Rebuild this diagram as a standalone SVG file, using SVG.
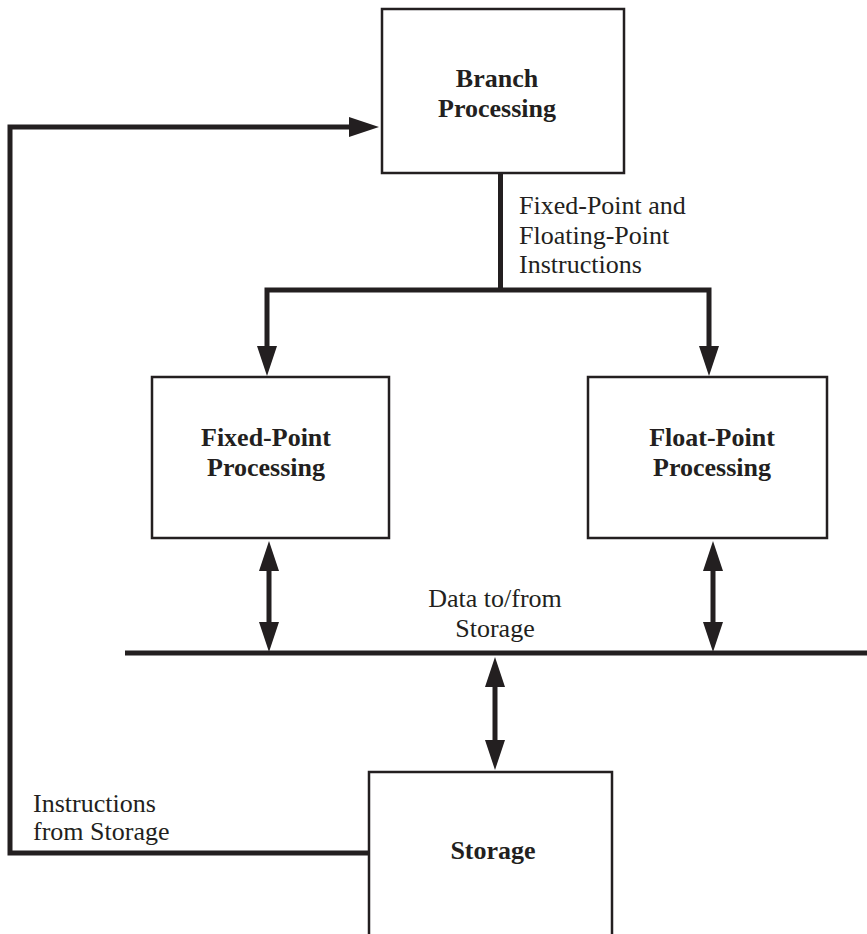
<svg xmlns="http://www.w3.org/2000/svg" width="867" height="934" viewBox="0 0 867 934">
<style>
.box{fill:#fff;stroke:#231f20;stroke-width:2.5}
.wire{fill:none;stroke:#231f20;stroke-width:5}
text{font-family:'Liberation Serif','Times New Roman',Times,serif;font-size:26px;fill:#231f20}
.title{font-weight:bold;text-anchor:middle}
.mid{text-anchor:middle}
</style>
<defs>
<marker id="ah" markerUnits="userSpaceOnUse" markerWidth="32" markerHeight="22" viewBox="0 -11 32 22" refX="1" refY="0" orient="auto-start-reverse">
<path d="M0,-10 L30,0 L0,10 Z" fill="#231f20"/>
</marker>
</defs>
<g id="connectors">
<line class="wire" x1="500.5" y1="173" x2="500.5" y2="290"/>
<path class="wire" d="M267,347 V290 H709 V347" marker-start="url(#ah)" marker-end="url(#ah)"/>
<path class="wire" d="M368,853 H10 V127 H350" marker-end="url(#ah)"/>
<line class="wire" x1="125" y1="653" x2="867" y2="653"/>
<line class="wire" x1="269" y1="570" x2="269" y2="623" marker-start="url(#ah)" marker-end="url(#ah)"/>
<line class="wire" x1="713" y1="570" x2="713" y2="623" marker-start="url(#ah)" marker-end="url(#ah)"/>
<line class="wire" x1="495" y1="686" x2="495" y2="741" marker-start="url(#ah)" marker-end="url(#ah)"/>
<text x="519" y="214">Fixed-Point and</text>
<text x="519" y="244">Floating-Point</text>
<text x="519" y="273">Instructions</text>
<text class="mid" x="495" y="607">Data to/from</text>
<text class="mid" x="495" y="637">Storage</text>
<text x="33" y="812">Instructions</text>
<text x="33" y="840">from Storage</text>
</g>
<g id="branch">
<rect class="box" x="382" y="9" width="242" height="164"/>
<text class="title" x="497" y="87">Branch</text>
<text class="title" x="497" y="117">Processing</text>
</g>
<g id="fixed">
<rect class="box" x="152" y="377" width="237" height="161"/>
<text class="title" x="266" y="446">Fixed-Point</text>
<text class="title" x="266" y="476">Processing</text>
</g>
<g id="float">
<rect class="box" x="588" y="377" width="239" height="161"/>
<text class="title" x="712" y="446">Float-Point</text>
<text class="title" x="712" y="476">Processing</text>
</g>
<g id="storage">
<rect class="box" x="369" y="772" width="243" height="180"/>
<text class="title" x="493" y="859">Storage</text>
</g>
</svg>
